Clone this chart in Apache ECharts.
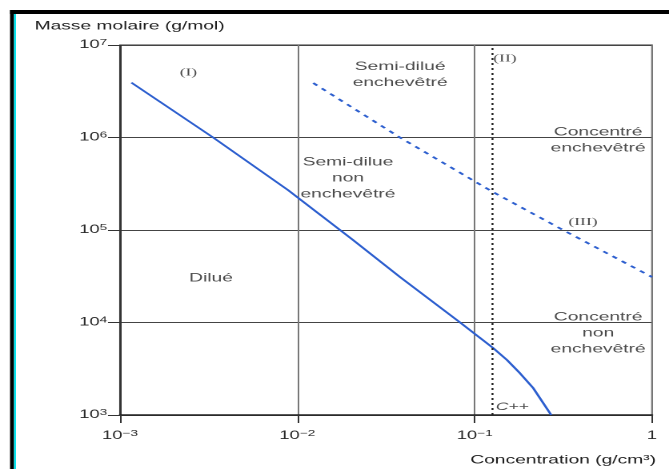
<!DOCTYPE html>
<html><head><meta charset="utf-8">
<script src="https://cdn.jsdelivr.net/npm/echarts@6/dist/echarts.min.js"></script>
<style>
html,body{margin:0;padding:0;background:#fff;overflow:hidden}
#wrap{width:669px;height:469px;position:relative;overflow:hidden}
#c{width:418px;height:469px;transform-origin:0 0;transform:scaleX(1.6005)}
</style>
</head><body><div id="wrap"><div id="c"></div></div>
<script>
// ---- data ----
const xTickBase = ['10', '10', '10', '1'];
const xTickExp  = ['−3', '−2', '−1', ''];
const yTickBase = ['10', '10', '10', '10', '10'];
const yTickExp  = ['3', '4', '5', '6', '7'];

// solid boundary curve (dilué / semi-dilué)
const solidConc = [0.00116, 0.00335, 0.00887, 0.0206, 0.0379, 0.0828, 0.127, 0.152, 0.180, 0.214, 0.27];
const solidMass = [3.92e6, 1.0e6, 2.70e5, 7.8e4, 3.1e4, 1.0e4, 5.3e3, 3.94e3, 2.83e3, 1.95e3, 1.0e3];

// dashed boundary (enchevêtré / non enchevêtré)
const dashConc = [0.0123, 0.0379, 0.127, 0.315, 1.0];
const dashMass = [3.88e6, 1.0e6, 2.57e5, 1.0e5, 3.1e4];

// C** threshold
const cStarStar = 0.126;
const massRange = [1e3, 1e7];

// region labels
const regionTexts = ['Semi-dilué\nenchevêtré', 'Concentré\nenchevêtré', 'Semi-dilue\nnon\nenchevêtré', 'Dilué', 'Concentré\nnon\nenchevêtré'];
const regionConc  = [0.0380, 0.497, 0.0193, 0.00326, 0.497];
const regionMass  = [4.75e6, 9.4e5, 3.65e5, 3.03e4, 7.7e3];

const romanTexts = ['(I)', '(II)', '(III)'];
const romanConc  = [0.00243, 0.148, 0.408];
const romanMass  = [5.05e6, 7.1e6, 1.22e5];

const cppText = ['C++'];
const cppConc = [0.163];
const cppMass = [1.22e3];

const xName = 'Concentration (g/cm³)';
const yName = 'Masse molaire (g/mol)';

// ---- chart ----
const SX = 1.6005; // horizontal stretch of the original figure
const zip = (a, b) => a.map((v, i) => [v, b[i]]);
const named = (t, a, b) => t.map((n, i) => ({ name: n, value: [a[i], b[i]] }));
const expIdx = (v, min) => Math.round(Math.log10(v)) - min;
const INK = '#1e1e1e';
const rich = {
  b: { fontSize: 11.5, lineHeight: 14, color: '#2a2a2a', fontFamily: 'Liberation Sans' },
  s: { fontSize: 8.5, lineHeight: 8, verticalAlign: 'top', color: '#2a2a2a', fontFamily: 'Liberation Sans' }
};
const chart = echarts.init(document.getElementById('c'), null, { renderer: 'canvas', devicePixelRatio: 2 });
const txt = { fontFamily: 'Liberation Sans', fontSize: 12, color: INK };

chart.setOption({
  backgroundColor: '#fff',
  animation: false,
  grid: { left: 120 / SX, right: 17 / SX, top: 45, bottom: 54, show: true, borderColor: '#333', borderWidth: 1, backgroundColor: 'transparent' },
  xAxis: {
    type: 'log', logBase: 10, min: 0.001, max: 1,
    name: xName, nameLocation: 'end', nameGap: 2.5,
    nameTextStyle: Object.assign({}, txt, { align: 'right', verticalAlign: 'top', padding: [39, 0, 0, 0] }),
    axisLine: { show: true, lineStyle: { color: '#222', width: 1.6 } },
    axisTick: { show: true, length: 8, lineStyle: { color: '#333' } },
    axisLabel: {
      margin: 14, rich,
      formatter: v => { const i = expIdx(v, -3); return '{b|' + xTickBase[i] + '}' + (xTickExp[i] ? '{s|' + xTickExp[i] + '}' : ''); }
    },
    splitLine: { show: true, lineStyle: { color: '#777', width: 1 } },
    minorTick: { show: false }, minorSplitLine: { show: false }
  },
  yAxis: {
    type: 'log', logBase: 10, min: 1e3, max: 1e7,
    name: yName, nameLocation: 'end', nameGap: 13,
    nameTextStyle: Object.assign({}, txt, { align: 'center', padding: [0, 0, 0, 12] }),
    axisLine: { show: true, lineStyle: { color: '#333', width: 1 } },
    axisTick: { show: true, length: 7.5, lineStyle: { color: '#333' } },
    axisLabel: {
      margin: 8, rich,
      formatter: v => { const i = expIdx(v, 3); return '{b|' + yTickBase[i] + '}{s|' + yTickExp[i] + '}'; }
    },
    splitLine: { show: true, lineStyle: { color: '#444', width: 1 } },
    minorTick: { show: false }, minorSplitLine: { show: false }
  },
  graphic: [
    { type: 'rect', shape: { x: 10 / SX, y: 10, width: 659 / SX, height: 4 }, style: { fill: '#000' }, silent: true },
    { type: 'rect', shape: { x: 10 / SX, y: 10, width: 4 / SX, height: 459 }, style: { fill: '#000' }, silent: true },
    { type: 'rect', shape: { x: 14 / SX, y: 14, width: 2 / SX, height: 455 }, style: { fill: '#00e5f0' }, silent: true }
  ],
  series: [
    { type: 'line', data: zip(solidConc, solidMass), smooth: false, symbol: 'none',
      lineStyle: { color: '#2d5fcf', width: 1.6 } },
    { type: 'line', data: zip(dashConc, dashMass), smooth: false, symbol: 'none',
      lineStyle: { color: '#2d5fcf', width: 1.7, type: [3.5, 4] } },
    { type: 'line', data: [[cStarStar, massRange[0]], [cStarStar, massRange[1]]], symbol: 'none',
      lineStyle: { color: '#222', width: 1.2, type: [2, 3] } },
    { type: 'scatter', data: named(regionTexts, regionConc, regionMass), symbolSize: 0,
      label: Object.assign({ show: true, position: 'inside', formatter: p => p.name, lineHeight: 16, align: 'center' }, txt) },
    { type: 'scatter', data: named(romanTexts, romanConc, romanMass), symbolSize: 0,
      label: { show: true, position: 'inside', formatter: p => p.name, fontFamily: 'Liberation Serif', fontSize: 11, color: INK } },
    { type: 'scatter', data: named(cppText, cppConc, cppMass), symbolSize: 0,
      label: Object.assign({ show: true, position: 'inside', formatter: p => p.name }, txt, { fontSize: 11, fontStyle: 'italic' }) }
  ]
});
</script></body></html>
